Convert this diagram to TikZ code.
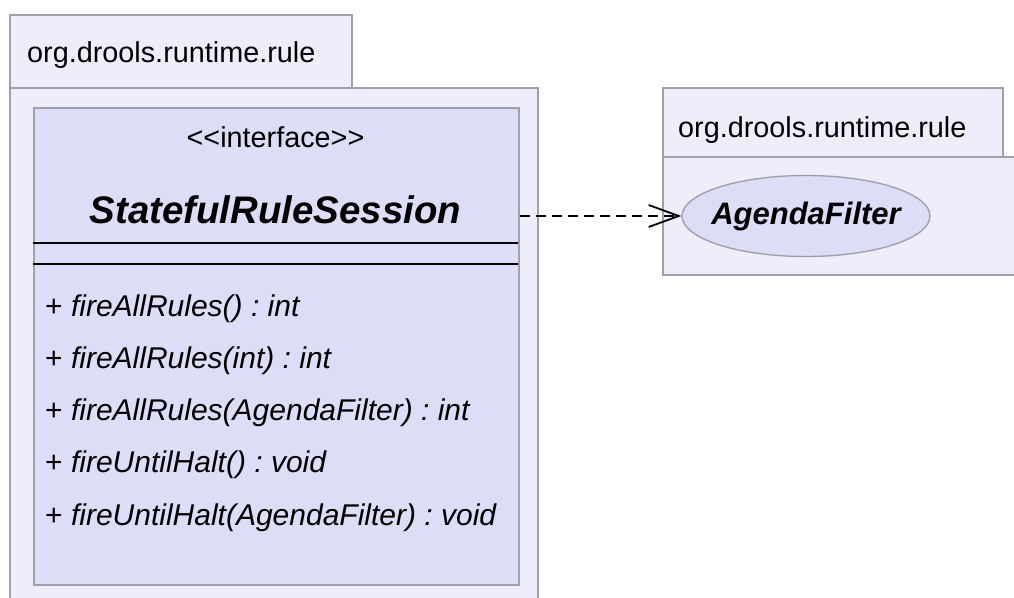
\documentclass[tikz,border=0pt]{standalone}
\usepackage{fontspec}
\setmainfont{Liberation Sans}
\usetikzlibrary{arrows.meta,shapes.geometric}
\definecolor{pkgfill}{RGB}{238,238,251}
\definecolor{clsfill}{RGB}{221,221,248}
\definecolor{edge}{RGB}{160,160,172}
\tikzset{
  pkg/.style={draw=edge,fill=pkgfill,line width=1.6pt},
  clsbox/.style={draw=edge,fill=clsfill,line width=1.6pt,anchor=north west,inner sep=0pt},
  sep/.style={draw=black,line width=1.8pt},
  lbl/.style={font=\fontsize{28.8}{32}\selectfont,inner sep=0pt},
  meth/.style={font=\fontsize{30}{32}\selectfont,inner sep=0pt,anchor=base west},
  dep/.style={draw=black,line width=1.8pt,dash pattern=on 10pt off 6pt,-{Straight Barb[length=30pt,width=22pt,line width=1.8pt]}},
}
\frenchspacing
\begin{document}
\begin{tikzpicture}[x=1pt,y=-1pt]
\useasboundingbox (0,0) rectangle (1014,597);
% left package
\path[pkg] (10,15) rectangle (352,88);
\path[pkg] (10,88) rectangle (538,620);
\node[lbl,anchor=base west] (p1) at (27,62) {org.drools.runtime.rule};
% class box
\node[clsbox,minimum width=485pt,minimum height=477pt] (cls) at (33,107) {};
\node[lbl,anchor=base] (st) at (275.5,147) {{<}{<}interface{>}{>}};
\node[font=\fontsize{38.4}{42}\selectfont\bfseries\itshape,inner sep=0pt,anchor=base] (nm) at (275.5,223) {StatefulRuleSession};
\coordinate (l1a) at (33,243); \coordinate (l1b) at (518,243);
\coordinate (l2a) at (33,264); \coordinate (l2b) at (518,264);
\draw[sep] (l1a) -- (l1b);
\draw[sep] (l2a) -- (l2b);
\node[meth] (m1) at (45,316) {+ \textit{fireAllRules() : int}};
\node[meth] (m2) at (45,368) {+ \textit{fireAllRules(int) : int}};
\node[meth] (m3) at (45,420) {+ \textit{fireAllRules(AgendaFilter) : int}};
\node[meth] (m4) at (45,472) {+ \textit{fireUntilHalt() : void}};
\node[meth] (m5) at (45,525) {+ \textit{fireUntilHalt(AgendaFilter) : void}};
% right package
\path[pkg] (663,88) rectangle (1003,157);
\path[pkg] (663,157) rectangle (1030,275);
\node[lbl,anchor=base west] (p2) at (678,137) {org.drools.runtime.rule};
\node[ellipse,draw=edge,fill=clsfill,line width=1.4pt,minimum width=248pt,minimum height=81pt,inner sep=0pt] (af) at (806,216) {};
\node[font=\fontsize{31}{34}\selectfont\bfseries\itshape,inner sep=0pt] (aft) at (af.center) {AgendaFilter};
% dependency
\draw[dep] (cls.east |- af.west) -- (af.west);
\end{tikzpicture}
\end{document}
